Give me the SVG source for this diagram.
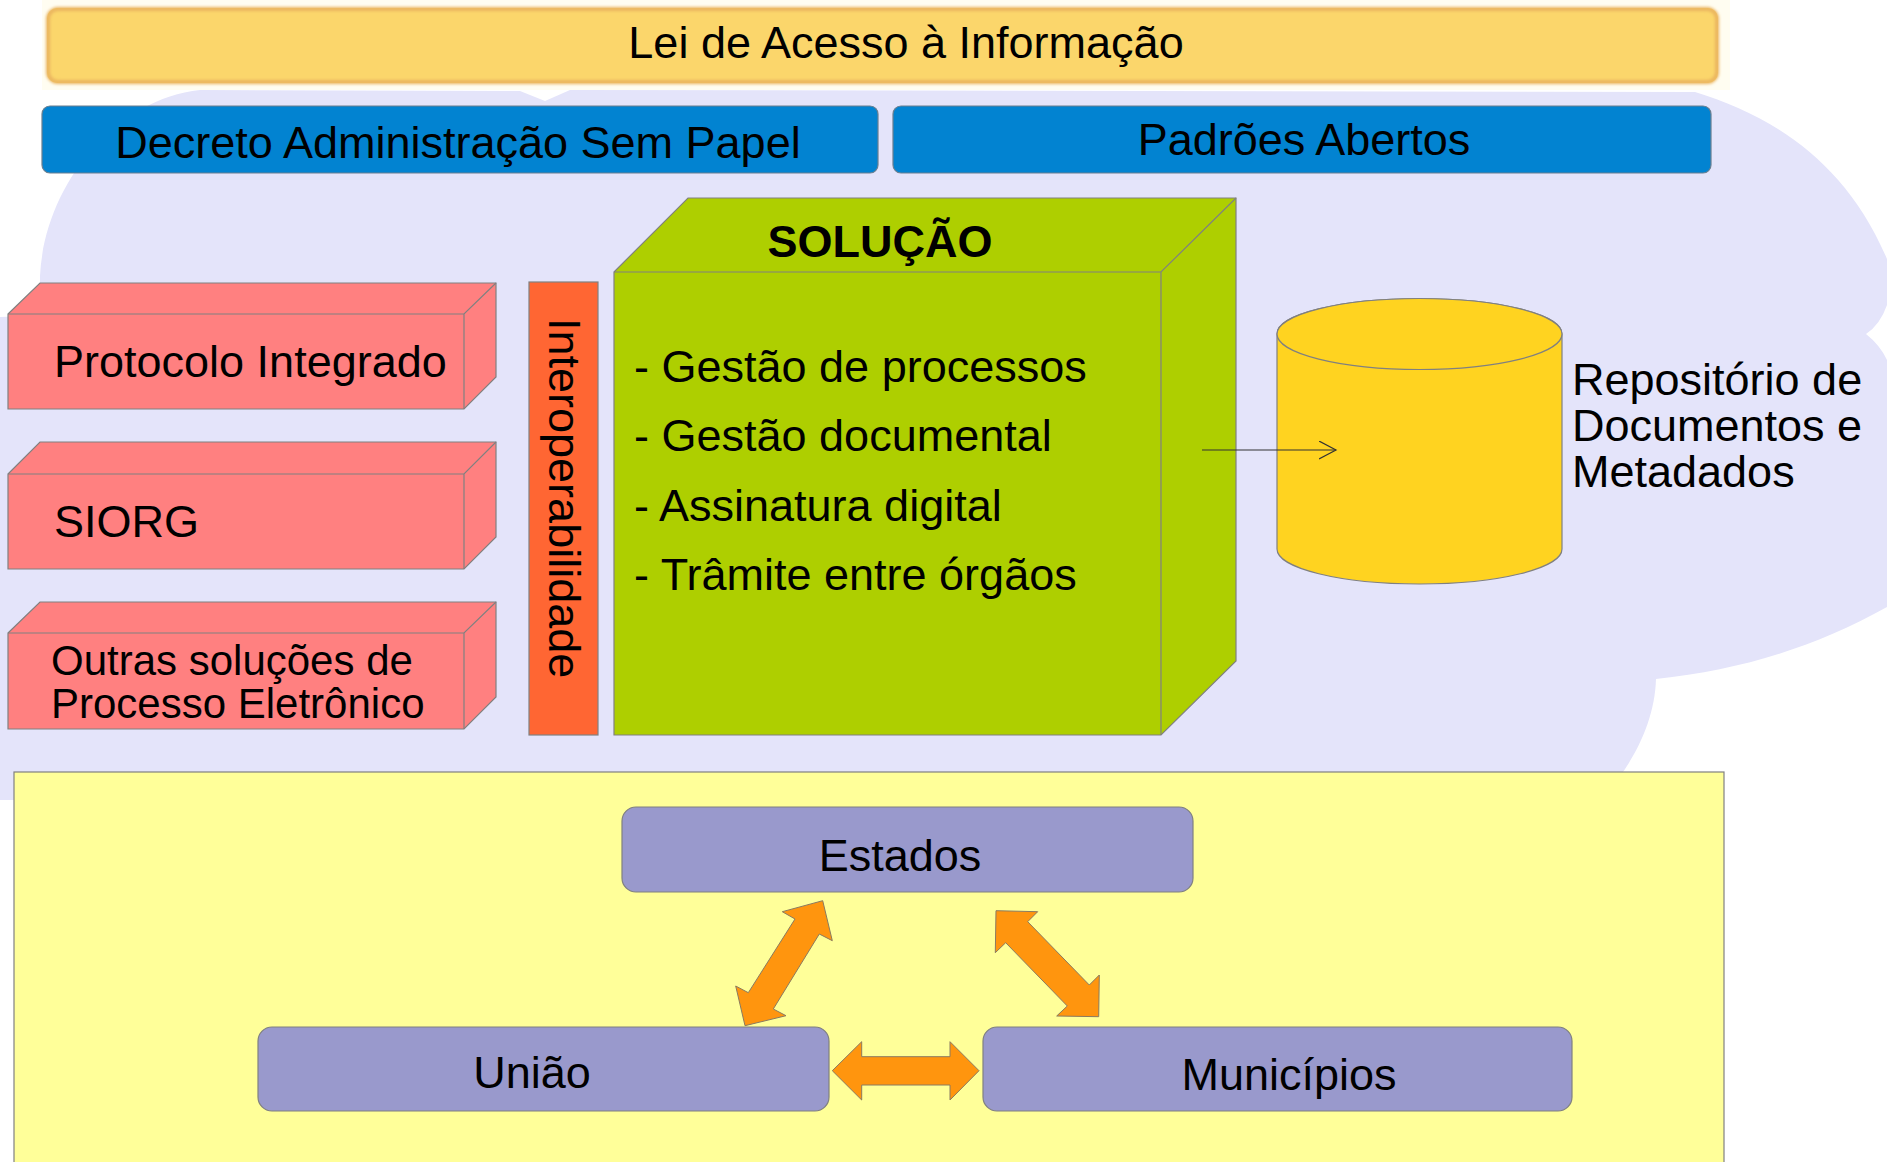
<svg xmlns="http://www.w3.org/2000/svg" width="1887" height="1162" viewBox="0 0 1887 1162">
  <defs>
    <style>
      text { font-family: "Liberation Sans", Arial, sans-serif; font-size: 45px; fill: #000; }
      .bold { font-weight: bold; }
      .edge { stroke: #808080; stroke-width: 1.2; }
      .pink { fill: #ff8080; }
      .blue { fill: #0283d1; stroke: #6a7f90; stroke-width: 1.2; }
      .purple { fill: #9999cc; stroke: #808080; stroke-width: 1.2; }
      .orange { fill: #ff950e; stroke: #8a7a60; stroke-width: 1; }
      .inner { fill: none; stroke: #808080; stroke-width: 1.2; }
    </style>
    <filter id="soft" x="-5%" y="-30%" width="110%" height="160%">
      <feGaussianBlur stdDeviation="1.8"/>
    </filter>
    <marker id="openArrow" markerWidth="20" markerHeight="20" refX="17" refY="9" orient="auto" markerUnits="userSpaceOnUse">
      <path d="M0,0 L17,9 L0,18" fill="none" stroke="#333" stroke-width="1.2"/>
    </marker>
  </defs>

  <rect x="0" y="0" width="1887" height="1162" fill="#ffffff"/>

  <g id="cloud">
    <path fill="#e4e4fa" d="M0,317 L30,316 Q40,314 40,300 L40,276 C44,190 110,100 200,90 L520,91 L545,101 L570,90 L1695,92 C1770,115 1845,160 1887,259 L1887,305 Q1880,325 1866,334 Q1880,345 1887,360 L1887,607 C1813,648 1740,670 1656,679 C1655,715 1640,748 1621,775 L1621,800 L0,800 Z"/>
  </g>

  <g id="lei-acesso">
    <rect x="42" y="0" width="1688" height="90" fill="#fffdf1"/>
    <rect x="47" y="8" width="1671" height="75" rx="10" fill="#fbd66b"/>
    <rect x="48" y="9" width="1669" height="73" rx="10" fill="none" stroke="#eab45e" stroke-width="4" filter="url(#soft)"/>
    <text x="906" y="58" text-anchor="middle">Lei de Acesso à Informação</text>
  </g>

  <g id="decreto">
    <rect class="blue" x="42" y="106" width="836" height="67" rx="8"/>
    <text x="458" y="158" text-anchor="middle">Decreto Administração Sem Papel</text>
  </g>

  <g id="padroes">
    <rect class="blue" x="893" y="106" width="818" height="67" rx="8"/>
    <text x="1304" y="155" text-anchor="middle">Padrões Abertos</text>
  </g>

  <g id="protocolo">
    <path class="pink edge" d="M8,314 L40,283 L496,283 L496,377 L464,409 L8,409 Z"/>
    <path class="inner" d="M8,314 L464,314 L496,283 M464,314 L464,409"/>
    <text x="54" y="377">Protocolo Integrado</text>
  </g>

  <g id="siorg">
    <path class="pink edge" d="M8,474 L40,442 L496,442 L496,537 L464,569 L8,569 Z"/>
    <path class="inner" d="M8,474 L464,474 L496,442 M464,474 L464,569"/>
    <text x="54" y="537">SIORG</text>
  </g>

  <g id="outras">
    <path class="pink edge" d="M8,633 L40,602 L496,602 L496,697 L464,729 L8,729 Z"/>
    <path class="inner" d="M8,633 L464,633 L496,602 M464,633 L464,729"/>
    <text x="51" y="675" style="font-size:42px">Outras soluções de</text>
    <text x="51" y="718" style="font-size:42px">Processo Eletrônico</text>
  </g>

  <g id="interoperabilidade">
    <rect x="529" y="282" width="69" height="453" fill="#ff6633" stroke="#808080" stroke-width="1.2"/>
    <text transform="translate(549,318) rotate(90)">Interoperabilidade</text>
  </g>

  <g id="solucao">
    <path fill="#aecf00" class="edge" d="M614,272 L688,198 L1236,198 L1236,661 L1161,735 L614,735 Z"/>
    <path class="inner" d="M614,272 L1161,272 L1236,198 M1161,272 L1161,735"/>
    <text class="bold" x="880" y="257" text-anchor="middle">SOLUÇÃO</text>
    <text x="634" y="382">- Gestão de processos</text>
    <text x="634" y="451">- Gestão documental</text>
    <text x="634" y="521">- Assinatura digital</text>
    <text x="634" y="590">- Trâmite entre órgãos</text>
  </g>

  <g id="repositorio">
    <path fill="#ffd320" class="edge" d="M1277,334 L1277,549 A142.5,35 0 0 0 1562,549 L1562,334 A142.5,35.5 0 0 0 1277,334 Z"/>
    <ellipse cx="1419.5" cy="334" rx="142.5" ry="35.5" fill="#ffd320" stroke="#808080" stroke-width="1.2"/>
    <text x="1572" y="395">Repositório de</text>
    <text x="1572" y="441">Documentos e</text>
    <text x="1572" y="487">Metadados</text>
  </g>

  <g id="federacao">
    <rect x="14" y="772" width="1710" height="400" fill="#ffff99" stroke="#808080" stroke-width="1.2"/>
  </g>

  <g id="estados">
    <rect class="purple" x="622" y="807" width="571" height="85" rx="14"/>
    <text x="900" y="871" text-anchor="middle">Estados</text>
  </g>

  <g id="uniao">
    <rect class="purple" x="258" y="1027" width="571" height="84" rx="14"/>
    <text x="532" y="1088" text-anchor="middle">União</text>
  </g>

  <g id="municipios">
    <rect class="purple" x="983" y="1027" width="589" height="84" rx="14"/>
    <text x="1289" y="1090" text-anchor="middle">Municípios</text>
  </g>

  <g id="connectors">
    <line x1="1202" y1="450" x2="1336" y2="450" stroke="#333" stroke-width="1.2" marker-end="url(#openArrow)"/>
    <polygon class="orange" points="822.7,900.7 832.3,940.7 819.3,934 773.3,1009 786,1015.7 745,1025.7 735.7,986 748.3,992.7 795,919 782.3,911.7"/>
    <polygon class="orange" points="996,910.7 1037.7,911.7 1027.7,921.7 1089.3,985 1099.3,975 1098.7,1016.7 1056.7,1016 1067.3,1006 1005.7,942.7 995.3,952.7"/>
    <polygon class="orange" points="832.3,1070.7 861.7,1041.7 861.7,1056.7 950,1056.7 950,1041.7 979,1070.7 950,1100 950,1085 861.7,1085 861.7,1100"/>
  </g>
</svg>
